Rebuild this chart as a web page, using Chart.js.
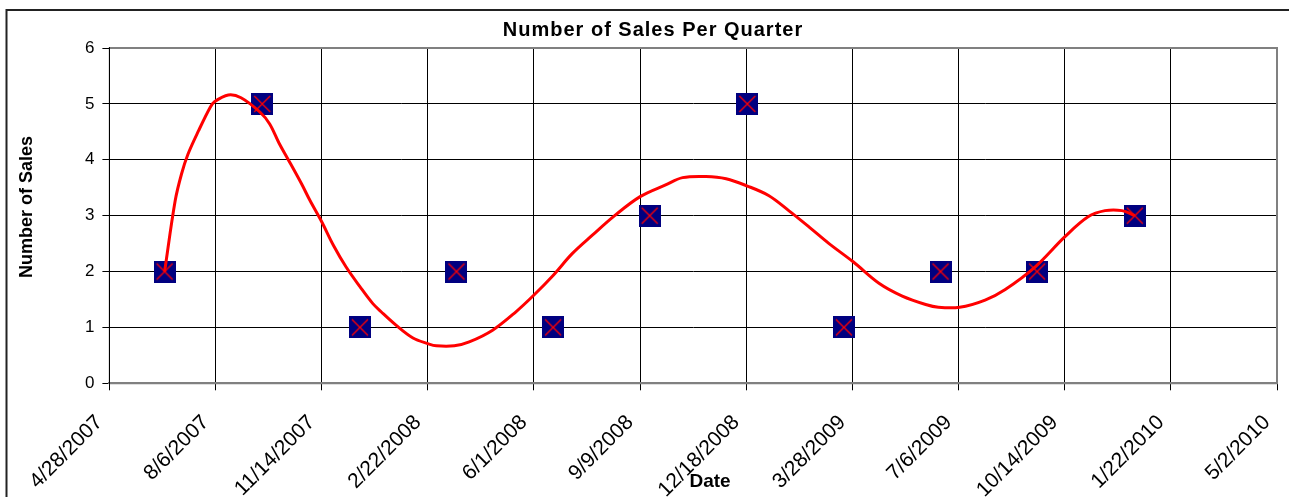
<!DOCTYPE html>
<html>
<head>
<meta charset="utf-8">
<script src="https://cdn.jsdelivr.net/npm/chart.js@4"></script>
<style>
  html, body { margin: 0; padding: 0; background: #ffffff; }
  #wrap { width: 1289px; height: 497px; position: relative; }
</style>
</head>
<body>
<div id="wrap"><canvas id="c" width="1289" height="497"></canvas></div>
<script>
// ---- data ----
const chartTitle = 'Number of Sales Per Quarter';
const xAxisTitle = 'Date';
const yAxisTitle = 'Number of Sales';

const xTickLabels = ['4/28/2007','8/6/2007','11/14/2007','2/22/2008','6/1/2008','9/9/2008',
                     '12/18/2008','3/28/2009','7/6/2009','10/14/2009','1/22/2010','5/2/2010'];
const yTickValues = [0, 1, 2, 3, 4, 5, 6];

const saleDates = ['6/19/2007','9/19/2007','12/20/2007','3/20/2008','6/19/2008','9/18/2008',
                   '12/19/2008','3/20/2009','6/19/2009','9/18/2009','12/19/2009'];
const salesCounts = [2, 5, 1, 2, 1, 3, 5, 1, 2, 2, 3];

const trendDates = ['6/19/2007','6/29/2007','7/5/2007','7/11/2007','7/21/2007','8/1/2007','8/5/2007',
  '8/18/2007','8/30/2007','9/17/2007','9/26/2007','10/5/2007','10/13/2007','10/26/2007','11/3/2007',
  '11/14/2007','11/25/2007','12/7/2007','12/20/2007','1/1/2008','1/9/2008','1/23/2008','2/8/2008',
  '2/22/2008','3/1/2008','3/18/2008','4/1/2008','4/23/2008','5/15/2008','6/1/2008','6/19/2008',
  '7/7/2008','7/26/2008','8/16/2008','9/9/2008','10/3/2008','10/19/2008','11/10/2008','11/29/2008',
  '12/19/2008','1/8/2009','1/27/2009','2/15/2009','3/6/2009','3/29/2009','4/22/2009','5/14/2009',
  '6/5/2009','6/17/2009','7/7/2009','7/31/2009','8/19/2009','9/16/2009','10/14/2009','11/5/2009',
  '11/21/2009','12/7/2009','12/19/2009'];
const trendValues = [2.0, 3.27, 3.75, 4.1, 4.52, 4.94, 5.04,
  5.16, 5.11, 4.85, 4.64, 4.29, 4.02, 3.57, 3.27,
  2.89, 2.47, 2.08, 1.73, 1.43, 1.28, 1.04, 0.81,
  0.71, 0.67, 0.67, 0.74, 0.95, 1.28, 1.58, 1.93,
  2.32, 2.65, 3.0, 3.34, 3.55, 3.68, 3.70, 3.66,
  3.53, 3.36, 3.09, 2.80, 2.50, 2.17, 1.79, 1.56,
  1.41, 1.36, 1.36, 1.49, 1.68, 2.08, 2.62, 2.98,
  3.09, 3.09, 3.0];

// ---- helpers ----
function dayNumber(s) {
  const p = s.split('/').map(Number);
  return Date.UTC(p[2], p[0] - 1, p[1]) / 86400000;
}
const startDay = dayNumber(xTickLabels[0]);
const endDay = dayNumber(xTickLabels[xTickLabels.length - 1]);
const offset = s => dayNumber(s) - startDay;

const salesPoints = saleDates.map((d, i) => ({ x: offset(d), y: salesCounts[i] }));
const trendPoints = trendDates.map((d, i) => ({ x: offset(d), y: trendValues[i] }));

// marker: navy square with red X
function makeMarker() {
  const c = document.createElement('canvas');
  c.width = 22; c.height = 22;
  const g = c.getContext('2d');
  g.fillStyle = '#000080';
  g.fillRect(0, 0, 22, 22);
  g.strokeStyle = '#ff0000';
  g.lineWidth = 1.3;
  g.beginPath();
  g.moveTo(3, 3); g.lineTo(19, 19);
  g.moveTo(19, 3); g.lineTo(3, 19);
  g.stroke();
  return c;
}

const FONT = "'Liberation Sans', Arial, sans-serif";

const decor = {
  id: 'decor',
  beforeDatasetsDraw(chart) {
    const { ctx, chartArea: a } = chart;
    ctx.save();
    ctx.strokeStyle = '#808080';
    ctx.lineWidth = 2;
    ctx.beginPath();
    ctx.moveTo(a.left, a.top);
    ctx.lineTo(a.right, a.top);
    ctx.lineTo(a.right, a.bottom);
    ctx.lineTo(a.left, a.bottom);
    ctx.stroke();
    ctx.strokeStyle = '#000000';
    ctx.lineWidth = 1;
    ctx.beginPath();
    ctx.moveTo(a.left, a.top - 1);
    ctx.lineTo(a.left, a.bottom + 1);
    ctx.stroke();
    ctx.restore();
  },
  afterDraw(chart) {
    const { ctx } = chart;
    ctx.save();
    // outer frame
    ctx.strokeStyle = '#222222';
    ctx.lineWidth = 2;
    ctx.beginPath();
    ctx.moveTo(6.5, 497);
    ctx.lineTo(6.5, 10);
    ctx.lineTo(1289, 10);
    ctx.stroke();
    ctx.fillStyle = '#000000';
    // title
    ctx.font = 'bold 20px ' + FONT;
    ctx.textAlign = 'center';
    ctx.textBaseline = 'alphabetic';
    try { ctx.letterSpacing = '1px'; } catch (e) {}
    ctx.fillText(chartTitle, 653, 36);
    try { ctx.letterSpacing = '0px'; } catch (e) {}
    // x title
    ctx.font = 'bold 19px ' + FONT;
    ctx.fillText(xAxisTitle, 710, 487);
    // y title
    ctx.font = 'bold 18px ' + FONT;
    ctx.translate(31.5, 207);
    ctx.rotate(-Math.PI / 2);
    ctx.fillText(yAxisTitle, 0, 0);
    ctx.restore();
  }
};

new Chart(document.getElementById('c'), {
  type: 'scatter',
  data: {
    datasets: [
      {
        label: 'Trend',
        data: trendPoints,
        showLine: true,
        borderColor: '#ff0000',
        borderWidth: 3,
        pointRadius: 0,
        tension: 0.35,
        fill: false,
        order: 0
      },
      {
        label: 'Sales',
        data: salesPoints,
        pointStyle: makeMarker(),
        pointRadius: 11,
        showLine: false,
        order: 1
      }
    ]
  },
  options: {
    responsive: false,
    animation: false,
    devicePixelRatio: 1,
    layout: { padding: { left: 0, top: 48, right: 10.7, bottom: 0 } },
    plugins: {
      legend: { display: false },
      title: { display: false },
      tooltip: { enabled: false }
    },
    scales: {
      x: {
        type: 'linear',
        min: 0,
        max: endDay - startDay,
        afterBuildTicks(scale) {
          scale.ticks = xTickLabels.map(s => ({ value: offset(s) }));
        },
        afterFit(scale) {
          scale.height = 497 - 383.3;
          scale.paddingLeft = 0;
          scale.paddingRight = 0;
        },
        ticks: {
          autoSkip: false,
          minRotation: 45,
          maxRotation: 45,
          color: '#000000',
          padding: 20,
          labelOffset: -10,
          font: { family: FONT, size: 21 },
          callback: (v, i) => xTickLabels[i]
        },
        grid: { color: '#000000', lineWidth: 1, tickLength: 7, drawTicks: true },
        border: { color: '#808080', width: 2 }
      },
      y: {
        min: 0,
        max: 6,
        afterBuildTicks(scale) {
          scale.ticks = yTickValues.map(v => ({ value: v }));
        },
        afterFit(scale) {
          scale.width = 109.4;
          scale.paddingTop = 0;
          scale.paddingBottom = 0;
        },
        ticks: {
          color: '#000000',
          padding: 8,
          font: { family: FONT, size: 17 },
          callback: v => String(v)
        },
        grid: { color: '#000000', lineWidth: 1, tickLength: 7, drawTicks: true },
        border: { color: '#000000', width: 1 }
      }
    }
  },
  plugins: [decor]
});
</script>
</body>
</html>
